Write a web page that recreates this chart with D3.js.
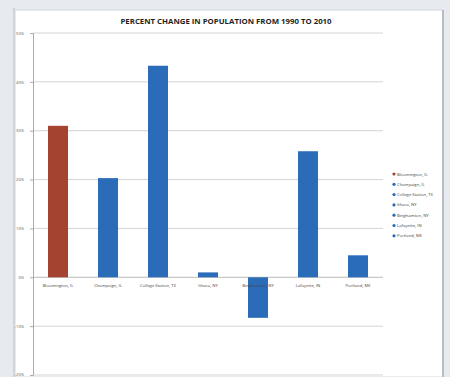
<!DOCTYPE html>
<html>
<head>
<meta charset="utf-8">
<script src="https://cdn.jsdelivr.net/npm/d3@7"></script>
<style>
  html, body { margin: 0; padding: 0; background: #e7eaef; }
  svg { display: block; }
</style>
</head>
<body>
<svg id="chart" width="450" height="377"></svg>
<script>
// Percent change in population, 1990 to 2010
const cities = ["Bloomington, IL", "Champaign, IL", "College Station, TX", "Ithaca, NY",
                "Binghamton, NY", "Lafayette, IN", "Portland, ME"];
const pctChange = [31, 20.3, 43.3, 1, -8.3, 25.8, 4.5];
const barColors = ["#a4432f", "#2b6cb8", "#2b6cb8", "#2b6cb8", "#2b6cb8", "#2b6cb8", "#2b6cb8"];
const yTicks = [-20, -10, 0, 10, 20, 30, 40, 50];

const svg = d3.select("#chart");
const W = 450, H = 377;

// sheet background and chart panel
svg.append("rect").attr("x", 0).attr("y", 0).attr("width", W).attr("height", H).attr("fill", "#e7eaef");
svg.append("line").attr("x1", 14).attr("x2", 14).attr("y1", 8).attr("y2", H)
   .attr("stroke", "#c9ccd3").attr("stroke-width", 1.5);
svg.append("rect").attr("x", 15).attr("y", 10).attr("width", 428).attr("height", H - 10)
   .attr("fill", "#ffffff").attr("stroke", "#d4d6dc").attr("stroke-width", 1);
svg.append("line").attr("x1", 443).attr("x2", 443).attr("y1", 10).attr("y2", H)
   .attr("stroke", "#b9bcc4").attr("stroke-width", 2);

const plot = { left: 33, right: 383, top: 33, bottom: 375 };

const x = d3.scaleBand().domain(cities).range([plot.left, plot.right]).paddingInner(0.6).paddingOuter(0.3);
const y = d3.scaleLinear().domain([-20, 50]).range([plot.bottom, plot.top]);

// title
svg.append("text").attr("x", 226).attr("y", 24).attr("text-anchor", "middle")
   .attr("font-family", "'Open Sans', 'DejaVu Sans', sans-serif").attr("font-weight", "bold")
   .attr("font-size", 7.8).attr("fill", "#1e1e1e")
   .text("PERCENT CHANGE IN POPULATION FROM 1990 TO 2010");

// gridlines
svg.append("g").selectAll("line").data(yTicks).join("line")
   .attr("x1", plot.left).attr("x2", plot.right)
   .attr("y1", d => y(d)).attr("y2", d => y(d))
   .attr("stroke", d => d === 0 ? "#aaaaaa" : "#c8c8c8").attr("stroke-width", 0.8);

// y axis
const yAxis = d3.axisLeft(y).tickValues(yTicks).tickFormat(d => d + "%").tickSize(3).tickPadding(6);
const gy = svg.append("g").attr("transform", `translate(${plot.left},0)`).call(yAxis);
gy.select(".domain").attr("stroke", "#a8a6cf").attr("stroke-width", 1);
gy.selectAll(".tick line").attr("stroke", "#aaa");
gy.selectAll("text").attr("font-family", "'Open Sans', sans-serif").attr("font-size", 4).attr("fill", "#555");
// keep the lowest label inside the panel
gy.selectAll(".tick").filter(d => d === -20).select("text").attr("dy", "0");

// bars
svg.append("g").selectAll("rect").data(cities).join("rect")
   .attr("x", d => x(d))
   .attr("width", x.bandwidth())
   .attr("y", (d, i) => y(Math.max(0, pctChange[i])))
   .attr("height", (d, i) => Math.abs(y(pctChange[i]) - y(0)))
   .attr("fill", (d, i) => barColors[i]);

// category labels
svg.append("g").selectAll("text").data(cities).join("text")
   .attr("x", d => x(d) + x.bandwidth() / 2)
   .attr("y", y(0) + 10)
   .attr("text-anchor", "middle")
   .attr("font-family", "'Open Sans', sans-serif").attr("font-size", 4.2).attr("fill", "#444")
   .text(d => d);

// legend
const lg = svg.append("g").attr("transform", "translate(394,174)");
const item = lg.selectAll("g").data(cities).join("g")
   .attr("transform", (d, i) => `translate(0,${i * 10.3})`);
item.append("circle").attr("r", 1.6).attr("cx", 0).attr("cy", 0).attr("fill", (d, i) => barColors[i]);
item.append("text").attr("x", 3).attr("y", 1.5)
   .attr("font-family", "'Open Sans', sans-serif").attr("font-size", 4.2).attr("fill", "#444")
   .text(d => d);
</script>
</body>
</html>
